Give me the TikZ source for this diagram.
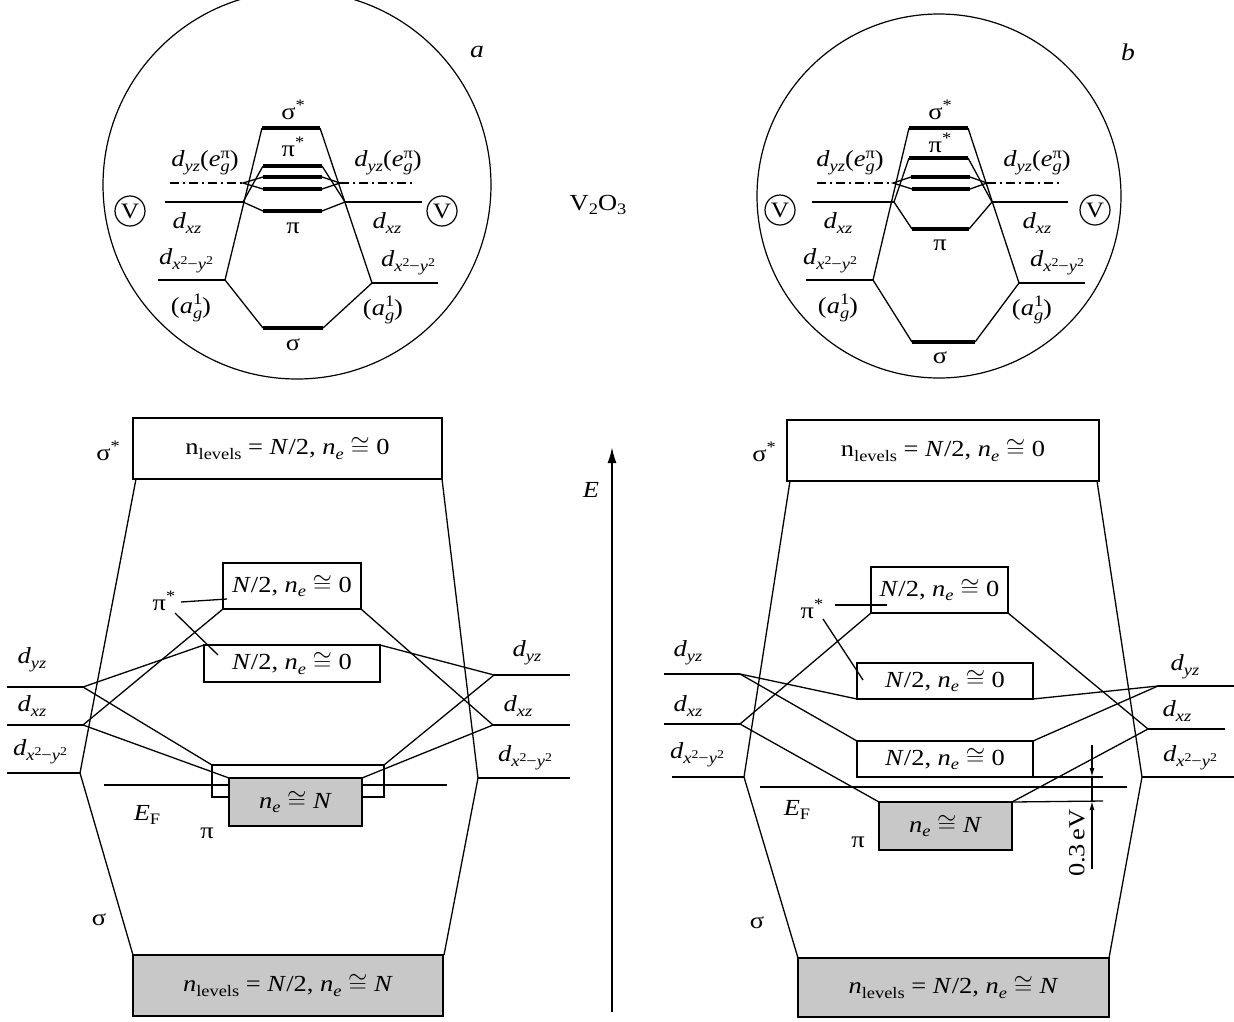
\documentclass[tikz,border=0pt]{standalone}
\usepackage{fontspec}
\setmainfont{Liberation Serif}[FakeStretch=1.15]
\usetikzlibrary{arrows.meta}
\newcommand{\sbs}[1]{\raisebox{-0.45ex}{\fontsize{16}{16}\selectfont #1}}
\newcommand{\sps}[1]{\raisebox{0.8ex}{\fontsize{16}{16}\selectfont #1}}
\newcommand{\ssp}[1]{\raisebox{0.7ex}{\fontsize{12}{12}\selectfont #1}}
\newcommand{\supsub}[2]{\rlap{\sps{#1}}\sbs{#2}}
\newcommand{\myDyz}{\textit{d}\sbs{\textit{yz}}}
\newcommand{\myDxz}{\textit{d}\sbs{\textit{xz}}}
\newcommand{\myDxy}{\textit{d}\sbs{\textit{x}\ssp{2}−\textit{y}\ssp{2}}}
\newcommand{\myEgp}{\textit{e}\supsub{π}{\textit{g}}}
\newcommand{\myAg}{(\textit{a}\supsub{1}{\textit{g}})}
\newcommand{\myHalf}{\textit{N}/2, \textit{n}\sbs{\textit{e}} $\cong$ 0}
\begin{document}
\begin{tikzpicture}[x=1pt,y=-1pt,
  thinl/.style={line width=1.3pt},
  mid/.style={line width=1.8pt},
  lvl/.style={line width=4pt},
  dd/.style={line width=1.8pt, dash pattern=on 9pt off 4pt on 2pt off 4pt},
  box/.style={draw, line width=1.6pt, inner sep=0pt, outer sep=0pt, fill=white, font=\fontsize{23}{27}\selectfont},
  gbox/.style={box, fill=gray!43},
  txt/.style={inner sep=0pt, font=\fontsize{23}{27}\selectfont},
  vc/.style={draw, circle, line width=1.2pt, minimum size=30pt, inner sep=0pt, font=\fontsize{22}{26}\selectfont},
  ring/.style={draw, circle, line width=1.2pt, inner sep=0pt}]
\useasboundingbox (0,0) rectangle (1234,1021);

% ================= circle a =================
\node[ring, minimum size=388pt] (ringA) at (297,185) {};
\draw[lvl] (262,128) coordinate (aSSl) -- (320,128) coordinate (aSSr);
\draw[lvl] (263,166) coordinate (aP1l) -- (322,166) coordinate (aP1r);
\draw[lvl] (263,177) coordinate (aP2l) -- (322,177) coordinate (aP2r);
\draw[lvl] (263,189) coordinate (aP3l) -- (322,189) coordinate (aP3r);
\draw[lvl] (263,211) coordinate (aPl) -- (322,211) coordinate (aPr);
\draw[lvl] (263,328) coordinate (aSl) -- (323,328) coordinate (aSr);
\draw[dd] (170,183) -- (243,183) coordinate (aYL);
\draw[dd] (340,183) coordinate (aYR) -- (413,183);
\draw[mid] (165,202) -- (243,202) coordinate (aXL);
\draw[mid] (345,202) coordinate (aXR) -- (422,202);
\draw[mid] (158,280) -- (225,280) coordinate (aDL);
\draw[mid] (372,283) coordinate (aDR) -- (438,283);
\draw[thinl] (aSSl) -- (aDL) -- (aSl);
\draw[thinl] (aSSr) -- (aDR) -- (aSr);
\draw[thinl] (aP2l) -- (aYL) -- (aP3l);
\draw[thinl] (aP1l) -- (aXL) -- (aPl);
\draw[thinl] (aP2r) -- (aYR) -- (aP3r);
\draw[thinl] (aP1r) -- (aXR) -- (aPr);
\node[txt] (aLss) at (293,110) {σ\sps{*}};
\node[txt] (aLps) at (293,147) {π\sps{*}};
\node[txt] (aLp) at (293,228) {π};
\node[txt] (aLs) at (293,345) {σ};
\node[txt] (aLyl) at (205,163) {\myDyz(\myEgp)};
\node[txt] (aLyr) at (388,163) {\myDyz(\myEgp)};
\node[txt] (aLxl) at (187,223) {\myDxz};
\node[txt] (aLxr) at (387,223) {\myDxz};
\node[txt] (aLdl) at (186,261) {\myDxy};
\node[txt] (aLdr) at (408,263) {\myDxy};
\node[txt] (aLal) at (191,308) {\myAg};
\node[txt] (aLar) at (383,310) {\myAg};
\node[vc] (aVl) at (130,211) {V};
\node[vc] (aVr) at (442,211) {V};
\node[txt, font=\fontsize{24}{28}\selectfont\itshape] (labA) at (477,52) {a};

% ================= circle b =================
\node[ring, minimum size=364pt] (ringB) at (939,196) {};
\draw[lvl] (909,128) coordinate (bSSl) -- (968,128) coordinate (bSSr);
\draw[lvl] (909,158) coordinate (bP1l) -- (968,158) coordinate (bP1r);
\draw[lvl] (911,177) coordinate (bP2l) -- (970,177) coordinate (bP2r);
\draw[lvl] (912,189) coordinate (bP3l) -- (970,189) coordinate (bP3r);
\draw[lvl] (912,229) coordinate (bPl) -- (969,229) coordinate (bPr);
\draw[lvl] (912,342) coordinate (bSl) -- (975,342) coordinate (bSr);
\draw[dd] (817,183) -- (893,183) coordinate (bYL);
\draw[dd] (987,183) coordinate (bYR) -- (1060,183);
\draw[mid] (812,202) -- (894,202) coordinate (bXL);
\draw[mid] (992,202) coordinate (bXR) -- (1068,202);
\draw[mid] (806,280) -- (873,280) coordinate (bDL);
\draw[mid] (1019,283) coordinate (bDR) -- (1085,283);
\draw[thinl] (bSSl) -- (bDL) -- (bSl);
\draw[thinl] (bSSr) -- (bDR) -- (bSr);
\draw[thinl] (bP2l) -- (bYL) -- (bP3l);
\draw[thinl] (bP1l) -- (bXL) -- (bPl);
\draw[thinl] (bP2r) -- (bYR) -- (bP3r);
\draw[thinl] (bP1r) -- (bXR) -- (bPr);
\node[txt] (bLss) at (940,110) {σ\sps{*}};
\node[txt] (bLps) at (940,143) {π\sps{*}};
\node[txt] (bLp) at (940,245) {π};
\node[txt] (bLs) at (940,358) {σ};
\node[txt] (bLyl) at (850,163) {\myDyz(\myEgp)};
\node[txt] (bLyr) at (1037,163) {\myDyz(\myEgp)};
\node[txt] (bLxl) at (838,223) {\myDxz};
\node[txt] (bLxr) at (1037,223) {\myDxz};
\node[txt] (bLdl) at (830,261) {\myDxy};
\node[txt] (bLdr) at (1057,263) {\myDxy};
\node[txt] (bLal) at (838,308) {\myAg};
\node[txt] (bLar) at (1032,310) {\myAg};
\node[vc] (bVl) at (780,210) {V};
\node[vc] (bVr) at (1095,210) {V};
\node[txt, font=\fontsize{24}{28}\selectfont\itshape] (labB) at (1128,52) {b};

\node[txt] (vo) at (598,205) {V\sbs{2}O\sbs{3}};

% ================= bottom left =================
\node[box, minimum width=309pt, minimum height=61pt] (sigSa) at (287.5,448.5) {n\sbs{levels} = \textit{N}/2, \textit{n}\sbs{\textit{e}} $\cong$ 0};
\node[box, minimum width=138pt, minimum height=46pt] (pSa1) at (292,586) {\myHalf};
\node[box, minimum width=176pt, minimum height=37pt] (pSa2) at (292,663.5) {\myHalf};
\node[box, minimum width=172pt, minimum height=32pt] (pOa) at (298,781) {};
\draw[mid] (104,785) coordinate (efa1) -- (447,785) coordinate (efa2);
\node[gbox, minimum width=133pt, minimum height=48pt] (pGa) at (295.5,802) {\textit{n}\sbs{\textit{e}} $\cong$ \textit{N}};
\node[gbox, minimum width=310pt, minimum height=61pt] (sigBa) at (288,985.5) {\textit{n}\sbs{levels} = \textit{N}/2, \textit{n}\sbs{\textit{e}} $\cong$ \textit{N}};
\draw[mid] (7,687) -- (83,687) coordinate (yLa);
\draw[mid] (7,725) -- (83,725) coordinate (xLa);
\draw[mid] (7,773) -- (80,773) coordinate (dLa);
\draw[mid] (494,675) coordinate (yRa) -- (570,675);
\draw[mid] (493,725) coordinate (xRa) -- (570,725);
\draw[mid] (478,778) coordinate (dRa) -- (570,778);
\draw[thinl] ([xshift=3pt]sigSa.south west) -- (dLa) -- (sigBa.north west);
\draw[thinl] (sigSa.south east) -- (dRa) -- ([xshift=1pt]sigBa.north east);
\draw[thinl] (yLa) -- (pSa2.north west);
\draw[thinl] (yLa) -- (pOa.north west);
\draw[thinl] (xLa) -- (pSa1.south west);
\draw[thinl] (xLa) -- (pGa.north west);
\draw[thinl] (pSa1.south east) -- (xRa);
\draw[thinl] (pSa2.north east) -- (yRa);
\draw[thinl] (pOa.north east) -- (yRa);
\draw[thinl] (pGa.north east) -- (xRa);
\node[txt] (lssa) at (108,451) {σ\sps{*}};
\node[txt] (lsa) at (99,920) {σ};
\node[txt] (lpsa) at (164,601) {π\sps{*}};
\coordinate (pta1) at (181,602);
\coordinate (pta2) at (175,613);
\draw[thinl] (pta1) -- ([xshift=4pt,yshift=-13pt]pSa1.west);
\draw[thinl] (pta2) -- ([xshift=14pt,yshift=-10pt]pSa2.north west);
\node[txt] (lefa) at (147,815) {\textit{E}\sbs{F}};
\node[txt] (lpa) at (207,833) {π};
\node[txt] (lyla) at (32,660) {\myDyz};
\node[txt] (lxla) at (32,706) {\myDxz};
\node[txt] (ldla) at (40,752) {\myDxy};
\node[txt] (lyra) at (527,653) {\myDyz};
\node[txt] (lxra) at (518,706) {\myDxz};
\node[txt] (ldra) at (525,758) {\myDxy};

% ================= energy axis =================
\draw[line width=2pt, -{Latex[length=16pt,width=9pt]}] (612,1012) coordinate (Ebot) -- (612,447) coordinate (Etop);
\node[txt, font=\fontsize{23}{27}\selectfont\itshape] (lE) at (591,490) {E};

% ================= bottom right =================
\node[box, minimum width=312pt, minimum height=61pt] (sigSb) at (943,450.5) {n\sbs{levels} = \textit{N}/2, \textit{n}\sbs{\textit{e}} $\cong$ 0};
\node[box, minimum width=137pt, minimum height=46pt] (pSb1) at (939.5,590) {\myHalf};
\node[box, minimum width=176pt, minimum height=36pt] (pSb2) at (945,681) {\myHalf};
\node[box, minimum width=176pt, minimum height=36pt] (pSb3) at (945,759) {\myHalf};
\draw[mid] (760,787) coordinate (efb1) -- (1127,787) coordinate (efb2);
\node[gbox, minimum width=133pt, minimum height=48pt] (pGb) at (945.5,826) {\textit{n}\sbs{\textit{e}} $\cong$ \textit{N}};
\node[gbox, minimum width=311pt, minimum height=59pt] (sigBb) at (953.5,987.5) {\textit{n}\sbs{levels} = \textit{N}/2, \textit{n}\sbs{\textit{e}} $\cong$ \textit{N}};
\draw[mid] (664,674) -- (740,674) coordinate (yLb);
\draw[mid] (664,724) -- (740,724) coordinate (xLb);
\draw[mid] (672,777) -- (744,777) coordinate (dLb);
\draw[mid] (1158,686) coordinate (yRb) -- (1234,686);
\draw[mid] (1148,729) coordinate (xRb) -- (1225,729);
\draw[mid] (1142,777) coordinate (dRb) -- (1234,777);
\draw[thinl] ([xshift=3pt]sigSb.south west) -- (dLb) -- (sigBb.north west);
\draw[thinl] ([xshift=-2pt]sigSb.south east) -- (dRb) -- (sigBb.north east);
\draw[thinl] (yLb) -- (pSb2.south west);
\draw[thinl] (yLb) -- (pSb3.north west);
\draw[thinl] (xLb) -- (pSb1.south west);
\draw[thinl] (xLb) -- (pGb.north west);
\draw[thinl] (pSb1.south east) -- (xRb);
\draw[thinl] (pSb2.south east) -- (yRb);
\draw[thinl] (pSb3.north east) -- (yRb);
\draw[thinl] (pGb.north east) -- (xRb);
% 0.3 eV dimension
\draw[thinl] (pSb3.south east) -- (1103,777) coordinate (dimT);
\draw[thinl] (pGb.north east) -- (1103,801) coordinate (dimB);
\draw[thinl, -{Latex[length=9pt,width=5pt]}] (1092,745) -- (1092,777) coordinate (dimA);
\draw[thinl] (dimA) -- (1092,801) coordinate (dimC);
\draw[thinl, -{Latex[length=9pt,width=5pt]}] (1092,869) -- (dimC);
\node[txt, rotate=90] (l03) at (1077,843) {0.3\,eV};
\node[txt] (lssb) at (764,452) {σ\sps{*}};
\node[txt] (lsb) at (757,923) {σ};
\node[txt] (lpsb) at (812,609) {π\sps{*}};
\coordinate (ptb1) at (835,605);
\coordinate (ptb2) at (823,619);
\draw[thinl] (ptb1) -- ([xshift=16pt,yshift=8pt]pSb1.south west);
\draw[thinl] (ptb2) -- ([xshift=6pt,yshift=-17pt]pSb2.north west);
\node[txt] (lefb) at (797,810) {\textit{E}\sbs{F}};
\node[txt] (lpb) at (858,842) {π};
\node[txt] (lylb) at (688,653) {\myDyz};
\node[txt] (lxlb) at (688,706) {\myDxz};
\node[txt] (ldlb) at (697,755) {\myDxy};
\node[txt] (lyrb) at (1185,667) {\myDyz};
\node[txt] (lxrb) at (1177,711) {\myDxz};
\node[txt] (ldrb) at (1190,758) {\myDxy};
\end{tikzpicture}
\end{document}
